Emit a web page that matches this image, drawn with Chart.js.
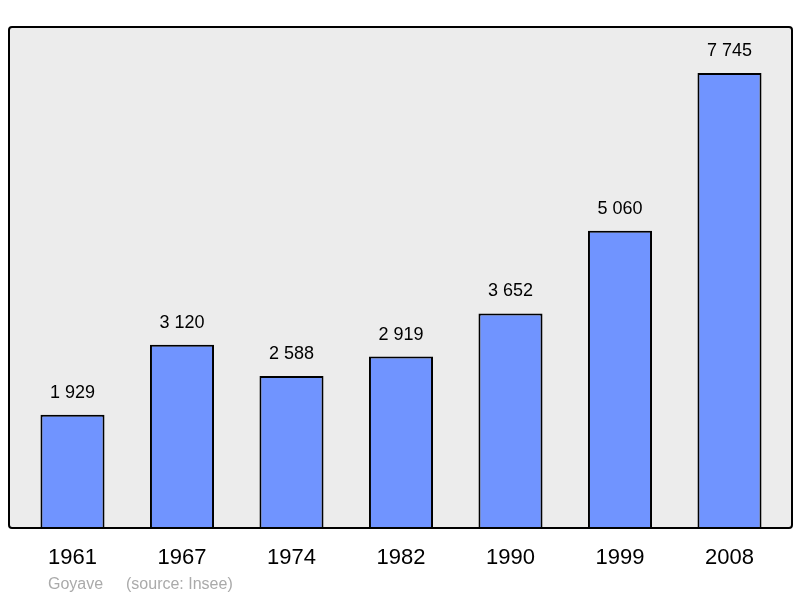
<!DOCTYPE html>
<html lang="en">
<head>
    <meta charset="UTF-8">
    <title>Goyave population</title>
    <script src="https://cdn.jsdelivr.net/npm/chart.js"></script>
    <style>
        body { margin: 0; background: #fff; }
    </style>
</head>
<body>
    <canvas id="popChart" width="800" height="598"></canvas>
    <script>
        const years = ['1961', '1967', '1974', '1982', '1990', '1999', '2008'];
        const population = [1929, 3120, 2588, 2919, 3652, 5060, 7745];
        const valueLabels = ['1 929', '3 120', '2 588', '2 919', '3 652', '5 060', '7 745'];

        // background box, value labels and year labels
        const decor = {
            id: 'decor',
            beforeDraw(chart) {
                const { ctx } = chart;
                ctx.save();
                ctx.fillStyle = '#ececec';
                ctx.fillRect(9, 27, 783, 501);
                ctx.restore();
            },
            afterDraw(chart) {
                const { ctx } = chart;
                ctx.save();
                ctx.strokeStyle = '#000';
                ctx.lineWidth = 2;
                ctx.beginPath();
                ctx.roundRect(9, 27, 783, 501, 3);
                ctx.stroke();
                const meta = chart.getDatasetMeta(0);
                ctx.fillStyle = '#000';
                ctx.textAlign = 'center';
                ctx.font = '18px "Liberation Sans", Arial, sans-serif';
                meta.data.forEach((bar, i) => {
                    ctx.fillText(valueLabels[i], bar.x, bar.y - 17);
                });
                ctx.font = '22px "Liberation Sans", Arial, sans-serif';
                meta.data.forEach((bar, i) => {
                    ctx.fillText(years[i], bar.x, 564);
                });
                ctx.textAlign = 'left';
                ctx.fillStyle = '#aaa';
                ctx.font = '16px "Liberation Sans", Arial, sans-serif';
                ctx.fillText('Goyave', 48, 589);
                ctx.fillText('(source: Insee)', 126, 589);
                ctx.restore();
            }
        };

        new Chart(document.getElementById('popChart'), {
            type: 'bar',
            data: {
                labels: years,
                datasets: [{
                    data: population,
                    backgroundColor: '#7094ff',
                    borderColor: '#000',
                    borderWidth: 2,
                    barPercentage: 0.585,
                    categoryPercentage: 1
                }]
            },
            options: {
                responsive: false,
                animation: false,
                layout: { padding: { left: 17.75, right: 15.75, top: 27, bottom: 70 } },
                plugins: { legend: { display: false }, tooltip: { enabled: false } },
                scales: {
                    x: { display: false },
                    y: { display: false, min: 0, max: 8528 }
                }
            },
            plugins: [decor]
        });
    </script>
</body>
</html>
